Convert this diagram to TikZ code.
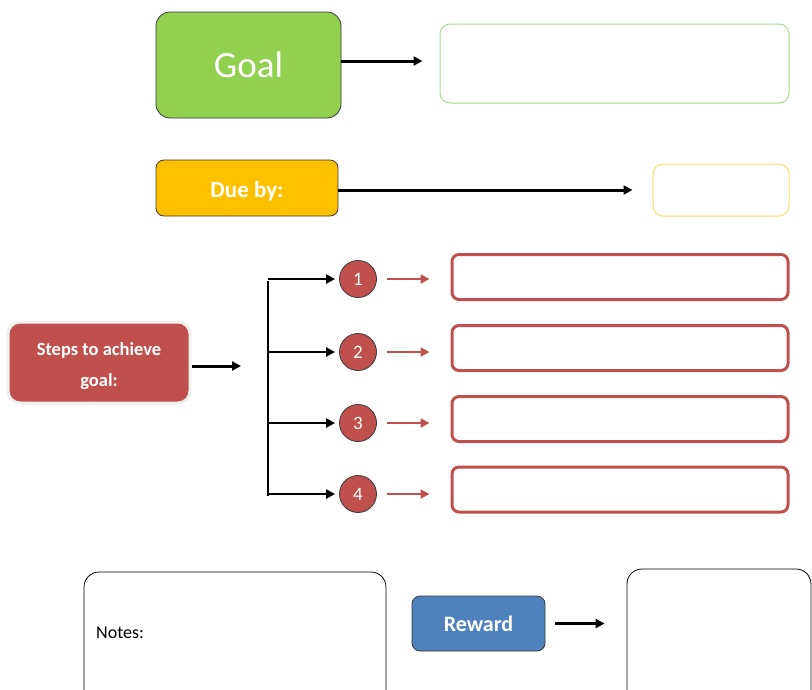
\documentclass[tikz,border=0pt]{standalone}
\usepackage{fontspec}
\setmainfont{Carlito}
\usetikzlibrary{arrows.meta}
\definecolor{goalgreen}{HTML}{92D050}
\definecolor{goalline}{HTML}{A9D98A}
\definecolor{dueyellow}{HTML}{FFC000}
\definecolor{dueline}{HTML}{FFD966}
\definecolor{stepred}{HTML}{C0504D}
\definecolor{rewardblue}{HTML}{4F81BD}
\definecolor{edgegray}{HTML}{3A3A3A}
\tikzset{
  filledbox/.style={draw=edgegray, line width=0.8pt, rounded corners=14pt, text=white, inner sep=0pt},
  outbox/.style={rounded corners=10pt, inner sep=0pt, fill=white},
  redbox/.style={draw=stepred, line width=3pt, rounded corners=7pt, inner sep=0pt, minimum width=336pt, minimum height=45pt},
  stepcircle/.style={circle, draw=edgegray, line width=0.8pt, fill=stepred, text=white, minimum size=37pt, inner sep=0pt, font=\fontsize{19}{21}\selectfont},
  blk/.style={draw=black, line width=3pt, -{Triangle[length=9pt,width=9pt]}},
  redarrow/.style={draw=stepred, line width=2.5pt, -{Triangle[length=9pt,width=9pt]}},
  branch/.style={draw=black, line width=1.6pt}
}
\begin{document}
\begin{tikzpicture}[x=1pt,y=-1pt]
\useasboundingbox (0,0) rectangle (812,689);
\clip (0,0) rectangle (812,689);

% Goal row
\node[filledbox, fill=goalgreen, minimum width=185pt, minimum height=106pt, font=\fontsize{37}{40}\selectfont] (goal) at (248.5,65) {Goal};
\node[outbox, draw=goalline, line width=1pt, minimum width=349pt, minimum height=79pt] (goalout) at (614.5,63.5) {};
\draw[blk, shorten >=17pt] (goal.east |- 0,61) -- (goalout.west |- 0,61);

% Due row
\node[filledbox, fill=dueyellow, rounded corners=8pt, minimum width=182pt, minimum height=56pt,
  label={[text=white, font=\bfseries\fontsize{23}{26}\selectfont, yshift=-3pt]center:Due by:}] (due) at (247,188) {};
\node[outbox, draw=dueline, line width=1pt, minimum width=136pt, minimum height=52pt] (dueout) at (721,190) {};
\draw[blk, shorten >=20pt] (due.east |- 0,190) -- (dueout.west |- 0,190);

% Steps
\node[draw=gray!12, line width=3pt, fill=stepred, rounded corners=12pt, inner sep=0pt, minimum width=182pt, minimum height=81pt,
  label={[text=white, align=center, font=\bfseries\fontsize{18.5}{31}\selectfont, yshift=-4pt]center:Steps to achieve\\goal:}] (steps) at (99,362.5) {};
\coordinate (stepend) at (241,366);
\draw[blk] (steps.east |- stepend) -- (stepend);

\coordinate (vtop) at (268,281);
\coordinate (vbot) at (268,496);
\draw[branch] (vtop) -- (vbot);

\foreach \i/\y/\by in {1/279/277, 2/352/348, 3/423/419, 4/494/489.5} {
  \node[stepcircle] (c\i) at (358,\y) {\i};
  \node[redbox] (r\i) at (620,\by) {};
  \draw[blk, line width=2.8pt, shorten >=4pt] (268,\y) coordinate (h\i) -- (c\i.west);
  \draw[redarrow, shorten <=10pt, shorten >=21pt] (c\i.east) -- (r\i.west |- c\i.east);
}

% Bottom row
\node[draw=black, line width=0.8pt, rounded corners=15pt, inner sep=0pt, minimum width=302pt, minimum height=140pt] (notes) at (235,642) {};
\node[anchor=west, inner sep=0pt, font=\fontsize{18}{20}\selectfont] (notestext) at (96,633) {Notes:};
\node[filledbox, fill=rewardblue, rounded corners=8pt, minimum width=133pt, minimum height=55pt, font=\bfseries\fontsize{22}{24}\selectfont] (reward) at (478.5,623.5) {Reward};
\node[draw=black, line width=0.8pt, rounded corners=15pt, inner sep=0pt, minimum width=184pt, minimum height=142pt] (rewardout) at (719,640) {};
\draw[blk, shorten <=10pt, shorten >=22pt] (reward.east) -- (rewardout.west |- reward.east);
\end{tikzpicture}
\end{document}
